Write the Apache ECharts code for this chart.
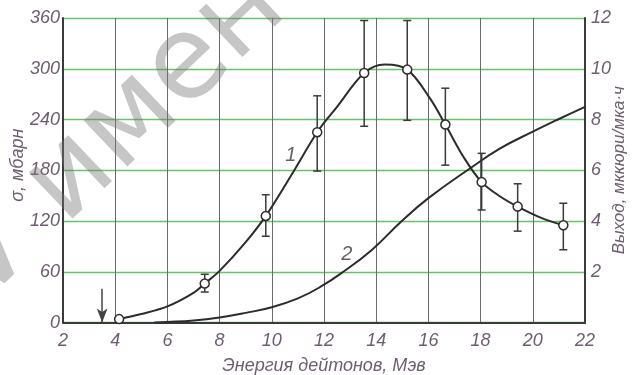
<!DOCTYPE html>
<html><head><meta charset="utf-8">
<script src="https://cdn.jsdelivr.net/npm/echarts@6/dist/echarts.min.js"></script>
<style>html,body{margin:0;padding:0;background:#fff}#c{width:632px;height:375px}</style>
</head><body><div id="c"></div>
<script>
// Curve 1: cross-section (mbarn), measured points with error bars
const energy1 = [4.15, 7.43, 9.77, 11.74, 13.54, 15.19, 16.65, 18.04, 19.42, 21.17];
const sigma1  = [4, 46, 126, 225, 295, 299, 234, 166, 137, 115];
const errLow1 = [4, 36, 102, 179, 232, 239, 186, 133, 108, 86];
const errHigh1= [4, 57, 151, 268, 357, 357, 277, 200, 164, 141];
// Curve 1 smooth line
const curve1E = [4.15, 5, 6, 7, 7.43, 8, 9, 9.77, 10.88, 11.74, 12.5, 13.54, 14.33, 15.19, 16.06, 16.65, 17.34, 18.04, 18.75, 19.42, 20.3, 21.17];
const curve1S = [4, 10, 19, 35, 46, 61, 95, 126, 181, 225, 255, 295, 305, 299, 265, 234, 196, 166, 149, 137, 124, 115];
// Curve 2: yield (right axis)
const curve2E = [5.5, 6, 7, 8, 9, 10, 11, 11.84, 12.74, 13.82, 14.98, 16, 17.59, 18.75, 20, 21, 22];
const curve2Y = [0, 0.02, 0.08, 0.2, 0.38, 0.6, 0.95, 1.39, 2, 2.85, 4, 4.9, 6.07, 6.86, 7.52, 8.02, 8.5];
const xTicks = [2, 4, 6, 8, 10, 12, 14, 16, 18, 20, 22];
const leftTicks = [0, 60, 120, 180, 240, 300, 360];
const rightTicks = [0, 2, 4, 6, 8, 10, 12];
const curveLabels = [{text: '1', e: 10.73, s: 198}, {text: '2', e: 12.87, s: 81}];
const arrowE = 3.5, arrowTop = 40;

const chart = echarts.init(document.getElementById('c'), null, {renderer: 'canvas'});
const txt = '#6e5d70';
const font = "'Liberation Sans', 'DejaVu Sans', sans-serif";
const ink = '#2e2a2e';

const errData = energy1.map((e, i) => [e, errLow1[i], errHigh1[i]]);

chart.setOption({
  backgroundColor: '#fff',
  animation: false,
  grid: {left: 63, right: 47, top: 18, bottom: 52.5, show: false, outerBoundsMode: 'none', containLabel: false},
  xAxis: {
    type: 'value', min: xTicks[0], max: xTicks[xTicks.length - 1], interval: 2,
    axisLine: {show: true, onZero: false, lineStyle: {color: '#3a3a3a', width: 2}},
    axisTick: {show: false},
    axisLabel: {color: txt, fontSize: 18, fontStyle: 'italic', fontFamily: font, margin: 9},
    splitLine: {show: true, lineStyle: {color: '#6a6a6a', width: 1}},
    name: 'Энергия дейтонов, Мэв', nameLocation: 'middle', nameGap: 34, nameMoveOverlap: false,
    nameTextStyle: {color: txt, fontSize: 18, fontStyle: 'italic', fontFamily: font}
  },
  yAxis: [{
    type: 'value', min: leftTicks[0], max: leftTicks[leftTicks.length - 1], interval: 60,
    axisLine: {show: true, onZero: false, lineStyle: {color: '#3a3a3a', width: 2}},
    axisTick: {show: false},
    axisLabel: {color: txt, fontSize: 18, fontStyle: 'italic', fontFamily: font, margin: 3},
    splitLine: {show: true, lineStyle: {color: '#66c466', width: 1.3}},
    name: 'σ, мбарн', nameLocation: 'middle', nameGap: 36, nameMoveOverlap: false,
    nameTextStyle: {color: txt, fontSize: 18, fontStyle: 'italic', fontFamily: font, padding: [0, 0, 0, 10]}
  }, {
    type: 'value', min: rightTicks[0], max: rightTicks[rightTicks.length - 1], interval: 2,
    axisLine: {show: true, onZero: false, lineStyle: {color: '#3a3a3a', width: 2}},
    axisTick: {show: false},
    axisLabel: {color: txt, fontSize: 18, fontStyle: 'italic', fontFamily: font, margin: 6,
      formatter: v => v === 0 ? '' : String(v)},
    splitLine: {show: false},
    name: 'Выход, мккюри/мка·ч', nameLocation: 'middle', nameGap: 26, nameMoveOverlap: false,
    nameTextStyle: {color: txt, fontSize: 17, fontStyle: 'italic', fontFamily: font}
  }],
  graphic: [{
    type: 'text', x: 0, y: 326, rotation: 0.76, z: 100, silent: true,
    style: {text: 'V имен', fill: 'rgba(120,120,120,0.42)', fontSize: 116, fontFamily: "'DejaVu Sans', sans-serif",
      textAlign: 'left', textVerticalAlign: 'bottom'}
  }],
  series: [
    {
      type: 'line', data: curve1E.map((e, i) => [e, curve1S[i]]), smooth: 0.35,
      showSymbol: false, lineStyle: {color: ink, width: 2}, z: 3,
      markLine: {
        silent: true, symbol: ['none', 'arrow'], symbolSize: [8, 14],
        lineStyle: {color: '#444', width: 1.5, type: 'solid'}, label: {show: false},
        data: [[{coord: [arrowE, arrowTop]}, {coord: [arrowE, 0]}]]
      }
    },
    {
      type: 'custom', z: 4,
      renderItem: (params, api) => {
        const x = api.value(0);
        const lo = api.coord([x, api.value(1)]);
        const hi = api.coord([x, api.value(2)]);
        if (Math.abs(hi[1] - lo[1]) < 2) return null;
        const w = 4;
        const st = {stroke: '#3a3a3a', lineWidth: 1.5};
        return {type: 'group', children: [
          {type: 'line', shape: {x1: lo[0], y1: lo[1], x2: hi[0], y2: hi[1]}, style: st},
          {type: 'line', shape: {x1: lo[0] - w, y1: lo[1], x2: lo[0] + w, y2: lo[1]}, style: st},
          {type: 'line', shape: {x1: hi[0] - w, y1: hi[1], x2: hi[0] + w, y2: hi[1]}, style: st}
        ]};
      },
      data: errData
    },
    {
      type: 'scatter', data: energy1.map((e, i) => [e, sigma1[i]]),
      symbol: 'circle', symbolSize: 9, z: 5,
      itemStyle: {color: '#fff', borderColor: ink, borderWidth: 1.5, opacity: 1}
    },
    {
      type: 'line', yAxisIndex: 1, data: curve2E.map((e, i) => [e, curve2Y[i]]), smooth: 0.45,
      showSymbol: false, lineStyle: {color: ink, width: 2}, z: 3
    },
    {
      type: 'scatter', data: curveLabels.map(l => ({value: [l.e, l.s], name: l.text})),
      symbolSize: 0, silent: true,
      label: {show: true, position: 'inside', formatter: p => p.name, color: '#3a3a3a',
        fontSize: 20, fontStyle: 'italic', fontFamily: font}
    }
  ]
});
</script>
</body></html>
